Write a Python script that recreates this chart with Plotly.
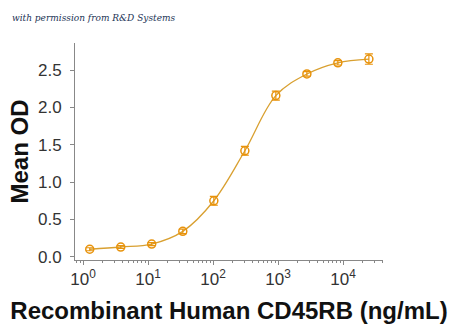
import plotly.graph_objects as go

conc = [1.27, 3.81, 11.4, 34.3, 103, 309, 926, 2780, 8330, 25000]
od = [0.10, 0.13, 0.17, 0.34, 0.75, 1.42, 2.16, 2.45, 2.60, 2.65]
err = [0.02, 0.02, 0.02, 0.03, 0.06, 0.06, 0.06, 0.03, 0.03, 0.07]
xtick_vals = [1, 10, 100, 1000, 10000]
xtick_text = ["10<sup>0</sup>", "10<sup>1</sup>", "10<sup>2</sup>", "10<sup>3</sup>", "10<sup>4</sup>"]
ytick_vals = [0.0, 0.5, 1.0, 1.5, 2.0, 2.5]

line_color = "#D9A030"
marker_color = "#E8930C"

fig = go.Figure()
fig.add_trace(go.Scatter(
    x=conc, y=od, mode="lines",
    line=dict(color=line_color, width=1.3, shape="spline", smoothing=1.0),
    hoverinfo="skip", showlegend=False))
fig.add_trace(go.Scatter(
    x=conc, y=od, mode="markers",
    marker=dict(symbol="circle-open", size=8, color=marker_color, line=dict(width=1.5, color=marker_color)),
    error_y=dict(type="data", array=err, color=marker_color, thickness=1.2, width=4),
    showlegend=False))

fig.update_layout(
    width=450, height=330,
    margin=dict(l=75, r=67, t=43, b=70),
    paper_bgcolor="white", plot_bgcolor="white",
    font=dict(family="Liberation Sans, Arial", color="#222"),
    xaxis=dict(
        type="log", range=[-0.123, 4.615],
        tickvals=xtick_vals, ticktext=xtick_text,
        showline=True, linecolor="#888", linewidth=1,
        ticks="outside", ticklen=4, tickcolor="#888",
        minor=dict(ticks="outside", ticklen=2, tickcolor="#888", dtick="D1"),
        showgrid=False, zeroline=False,
        tickfont=dict(size=17, color="#333"),
        title=dict(text="<b>Recombinant Human CD45RB (ng/mL)</b>", font=dict(size=24, color="#111"), standoff=13),
    ),
    yaxis=dict(
        range=[-0.044, 2.865],
        tickvals=ytick_vals, tickformat=".1f",
        showline=True, linecolor="#888", linewidth=1,
        ticks="outside", ticklen=4, tickcolor="#888",
        ticklabelstandoff=5,
        showgrid=False, zeroline=False,
        tickfont=dict(size=17, color="#333"),
        title=dict(text="<b>Mean OD</b>", font=dict(size=24, color="#111"), standoff=2),
    ),
)

fig.add_annotation(
    text="<i>with permission from R&amp;D Systems</i>",
    xref="paper", yref="paper", x=-0.2, y=1.115, xanchor="left", yanchor="middle",
    xshift=-3, showarrow=False,
    font=dict(family="DejaVu Serif, serif", size=9, color="#223355"))

fig.write_html("out.html")
